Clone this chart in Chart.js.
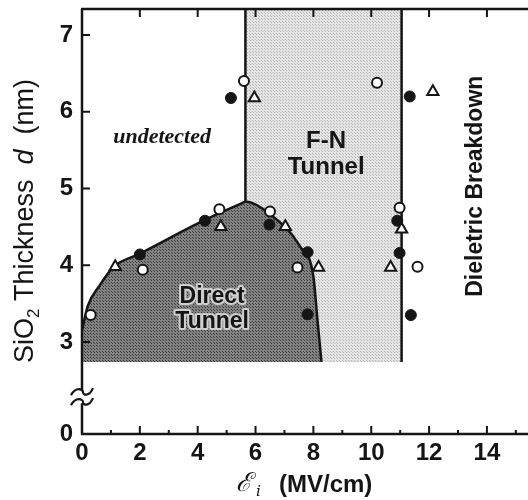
<!DOCTYPE html>
<html><head><meta charset="utf-8">
<script src="https://cdn.jsdelivr.net/npm/chart.js@4.4.1/dist/chart.umd.min.js"></script>
<style>html,body{margin:0;padding:0;background:#fff}#wrap{width:528px;height:500px}</style>
</head><body><div id="wrap"><canvas id="c" width="528" height="500"></canvas></div>
<script>
// ---- data ----
const xTickValues = [0,1,2,3,4,5,6,7,8,9,10,11,12,13,14,15];
const xTickLabels = ['0','','2','','4','','6','','8','','10','','12','','14',''];
const yTickValues = [1.8, 3, 4, 5, 6, 7];      // 1.8 = broken-axis position of "0"
const yTickLabels = ['0','3','4','5','6','7'];

const openCircleX   = [0.3, 2.1, 4.75, 6.5, 7.45, 5.6, 10.2, 10.98, 11.6];
const openCircleY   = [3.35, 3.94, 4.73, 4.70, 3.97, 6.40, 6.38, 4.75, 3.98];
const filledCircleX = [2.0, 4.25, 6.48, 7.8, 7.8, 5.15, 11.33, 10.9, 10.98, 11.37];
const filledCircleY = [4.14, 4.58, 4.53, 4.17, 3.36, 6.18, 6.2, 4.58, 4.16, 3.35];
const triangleX     = [1.15, 4.8, 7.03, 8.18, 5.96, 12.13, 11.05, 10.67];
const triangleY     = [3.98, 4.5, 4.5, 3.97, 6.18, 6.26, 4.47, 3.97];

// Direct-tunnel boundary (left rising part and right falling part)
const dtLeftX  = [0, 0.2, 0.6, 1.1, 2.0, 4.3, 5.65];
const dtLeftY  = [3.15, 3.47, 3.73, 3.98, 4.15, 4.6, 4.83];
const dtRightX = [5.62, 5.65, 6.45, 7.55, 8.0, 8.15, 8.28];
const dtRightY = [4.83, 4.83, 4.68, 4.24, 3.85, 3.25, 2.74];
const regionFloor = 2.74;
const yTop = 7.34;
// F-N region and boundary lines
const fnX = [5.65, 11.05];
const fnY = [yTop, yTop];
const fnLeftLineX = [5.65, 5.65];
const fnLeftLineY = [4.83, yTop];
const breakdownLineX = [11.05, 11.05];
const breakdownLineY = [regionFloor, yTop];
const axisBreakValue = 2.28;

const pts = (xs, ys) => xs.map((x, i) => ({x, y: ys[i]}));

function makePattern(base, dot, step) {
  const c = document.createElement('canvas');
  c.width = step; c.height = step;
  const g = c.getContext('2d');
  g.fillStyle = base; g.fillRect(0, 0, step, step);
  g.fillStyle = dot; g.fillRect(0, 0, 1, 1);
  g.fillRect(Math.floor(step/2), Math.floor(step/2), 1, 1);
  return document.createElement('canvas').getContext('2d').createPattern(c, 'repeat');
}
const darkPattern = makePattern('#828282', '#3e3e3e', 3);
const lightPattern = makePattern('#e4e4e4', '#b8b8b8', 3);

const INK = '#151515';
const SANS = "'Liberation Sans', Arial, sans-serif";

const annotations = [
  {text: 'undetected', x: 2.77, y: 5.67, font: "italic bold 22px 'Liberation Serif', serif"},
  {text: 'F-N', x: 8.44, y: 5.61, font: 'bold 24px ' + SANS},
  {text: 'Tunnel', x: 8.44, y: 5.28, font: 'bold 24px ' + SANS},
  {text: 'Direct', x: 4.5, y: 3.59, font: 'bold 23px ' + SANS, halo: '#cfcfcf'},
  {text: 'Tunnel', x: 4.5, y: 3.26, font: 'bold 23px ' + SANS, halo: '#cfcfcf'},
  {text: 'Dieletric Breakdown', x: 13.6, y: 5.03, font: 'bold 23px ' + SANS, rotate: true}
];

const framePlugin = {
  id: 'frame',
  afterDatasetsDraw(chart) {
    const {ctx, chartArea: a, scales: {x, y}} = chart;
    ctx.save();
    ctx.strokeStyle = INK; ctx.lineCap = 'butt';
    ctx.lineWidth = 2.5;
    ctx.beginPath();
    ctx.moveTo(a.left - 1, a.bottom); ctx.lineTo(a.right, a.bottom);
    ctx.moveTo(a.left - 1, a.top); ctx.lineTo(a.right, a.top);
    ctx.stroke();
    const pb = y.getPixelForValue(axisBreakValue);
    ctx.beginPath();
    ctx.moveTo(a.left, a.top); ctx.lineTo(a.left, pb - 6);
    ctx.moveTo(a.left, pb + 6); ctx.lineTo(a.left, a.bottom);
    ctx.stroke();
    ctx.lineWidth = 2.2;
    [-5, 5].forEach(d => {
      const cy = pb + d;
      ctx.beginPath();
      ctx.moveTo(a.left - 11, cy + 3);
      ctx.bezierCurveTo(a.left - 6, cy - 6, a.left + 1, cy - 3, a.left + 1, cy);
      ctx.bezierCurveTo(a.left + 1, cy + 3, a.left + 7, cy + 5, a.left + 11, cy - 4);
      ctx.stroke();
    });
    ctx.lineWidth = 2;
    ctx.beginPath();
    xTickValues.forEach((v, i) => {
      const px = x.getPixelForValue(v);
      const major = xTickLabels[i] !== '';
      ctx.moveTo(px, a.bottom); ctx.lineTo(px, a.bottom - (major ? 8 : 4));
      if (major && v > 0) { ctx.moveTo(px, a.top); ctx.lineTo(px, a.top + 8); }
    });
    yTickValues.forEach(v => {
      if (v <= y.min) return;
      const py = y.getPixelForValue(v);
      ctx.moveTo(a.left, py); ctx.lineTo(a.left + 8, py);
    });
    ctx.stroke();
    ctx.fillStyle = INK;
    ctx.textAlign = 'center'; ctx.textBaseline = 'middle';
    annotations.forEach(t => {
      const px = x.getPixelForValue(t.x), py = y.getPixelForValue(t.y);
      ctx.save();
      ctx.translate(px, py);
      if (t.rotate) ctx.rotate(-Math.PI / 2);
      ctx.font = t.font;
      if (t.halo) { ctx.strokeStyle = t.halo; ctx.lineWidth = 4; ctx.lineJoin = 'round'; ctx.strokeText(t.text, 0, 0); }
      ctx.fillText(t.text, 0, 0);
      ctx.restore();
    });
    // x title
    ctx.textAlign = 'left'; ctx.textBaseline = 'alphabetic';
    ctx.font = "italic 26px 'DejaVu Serif', serif";
    ctx.fillText('\u2130', 236, 491);
    ctx.font = "italic 15px 'DejaVu Serif', serif";
    ctx.fillText('i', 256, 496);
    ctx.font = 'bold 24px ' + SANS;
    ctx.fillText('(MV/cm)', 279, 492);
    // y title rotated
    ctx.save();
    ctx.translate(33, 221);
    ctx.rotate(-Math.PI / 2);
    const parts = [
      {t: 'SiO', f: '27px ' + SANS, dy: 0},
      {t: '2', f: '17px ' + SANS, dy: 6},
      {t: ' Thickness  ', f: '27px ' + SANS, dy: 0},
      {t: 'd', f: 'italic 27px ' + SANS, dy: 0},
      {t: '  (nm)', f: '27px ' + SANS, dy: 0}
    ];
    let total = 0;
    parts.forEach(p => { ctx.font = p.f; p.w = ctx.measureText(p.t).width; total += p.w; });
    let cx = -total / 2;
    parts.forEach(p => { ctx.font = p.f; ctx.fillText(p.t, cx, p.dy); cx += p.w; });
    ctx.restore();
    ctx.restore();
  }
};

const lineDs = (data, extra) => Object.assign({
  type: 'line', data, borderColor: INK, borderWidth: 2.5, pointRadius: 0,
  fill: false, tension: 0
}, extra);

new Chart(document.getElementById('c'), {
  type: 'scatter',
  data: {
    datasets: [
      {type: 'scatter', label: 'open circle', data: pts(openCircleX, openCircleY), pointStyle: 'circle',
       pointRadius: 5, backgroundColor: '#fff', borderColor: INK, borderWidth: 2, order: 1},
      {type: 'scatter', label: 'filled circle', data: pts(filledCircleX, filledCircleY), pointStyle: 'circle',
       pointRadius: 5.5, backgroundColor: INK, borderColor: INK, borderWidth: 1, order: 1},
      {type: 'scatter', label: 'triangle', data: pts(triangleX, triangleY), pointStyle: 'triangle',
       pointRadius: 6.5, backgroundColor: '#fff', borderColor: INK, borderWidth: 2, order: 1},
      lineDs(pts(fnLeftLineX, fnLeftLineY), {order: 4}),
      lineDs(pts(breakdownLineX, breakdownLineY), {order: 4}),
      lineDs(pts(dtLeftX, dtLeftY), {fill: {value: regionFloor}, backgroundColor: darkPattern,
        cubicInterpolationMode: 'monotone', order: 6}),
      lineDs(pts(dtRightX, dtRightY), {fill: {value: regionFloor}, backgroundColor: darkPattern,
        cubicInterpolationMode: 'monotone', order: 6}),
      lineDs(pts(fnX, fnY), {borderWidth: 0, borderColor: 'rgba(0,0,0,0)', fill: {value: regionFloor},
        backgroundColor: lightPattern, order: 9})
    ]
  },
  options: {
    responsive: false, animation: false, devicePixelRatio: 1,
    layout: {autoPadding: false, padding: {top: 9, right: 0, left: 0, bottom: 0}},
    plugins: {legend: {display: false}, tooltip: {enabled: false}},
    scales: {
      x: {
        type: 'linear', min: 0, max: 15.42,
        afterFit: s => { s.height = 66; s.paddingLeft = 0; s.paddingRight = 0; },
        afterBuildTicks: s => { s.ticks = xTickValues.map(v => ({value: v})); },
        grid: {display: false, drawTicks: false},
        border: {display: false},
        ticks: {autoSkip: false, maxRotation: 0, padding: 5, color: INK,
          font: {family: SANS, size: 24, weight: 'bold'},
          callback: (v, i) => xTickLabels[i]}
      },
      y: {
        type: 'linear', min: 1.8, max: yTop,
        afterFit: s => { s.width = 82; s.paddingTop = 0; s.paddingBottom = 0; },
        afterBuildTicks: s => { s.ticks = yTickValues.map(v => ({value: v})); },
        grid: {display: false, drawTicks: false},
        border: {display: false},
        ticks: {autoSkip: false, padding: 9, color: INK,
          font: {family: SANS, size: 24, weight: 'bold'},
          callback: (v, i) => yTickLabels[i]}
      }
    }
  },
  plugins: [framePlugin]
});
</script>
</body></html>
